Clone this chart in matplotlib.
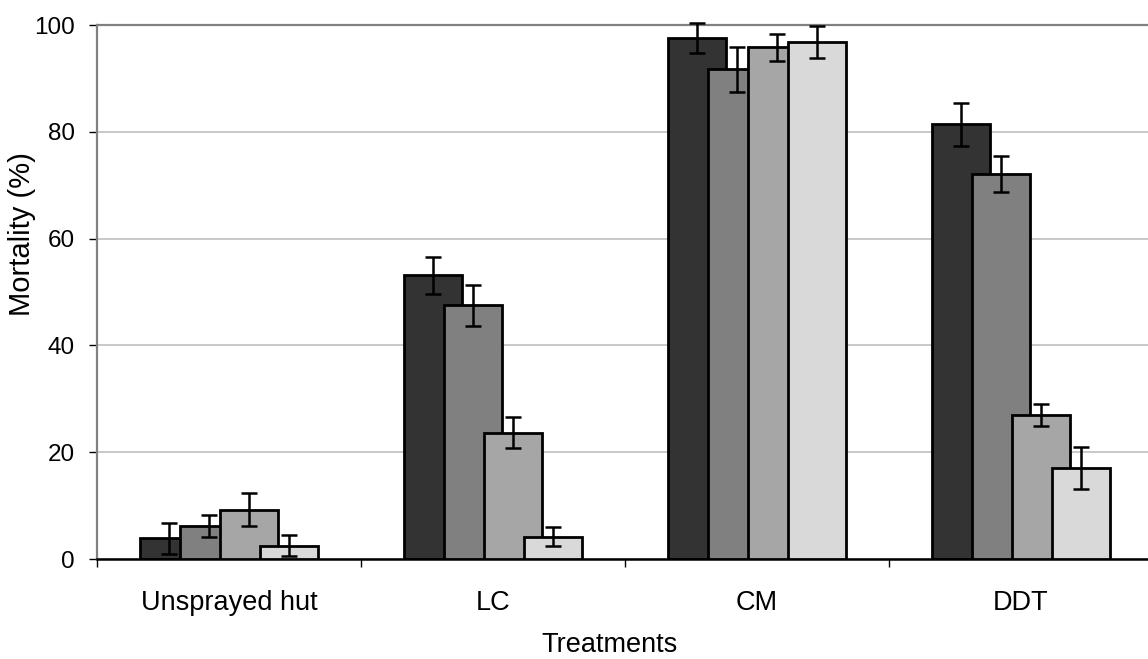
import numpy as np
import matplotlib
matplotlib.use("Agg")
import matplotlib.pyplot as plt

plt.rcParams['font.family'] = ['Liberation Sans', 'DejaVu Sans']

# data
treatments = ["Unsprayed hut", "LC", "CM", "DDT"]
series_1 = [3.9, 53.1, 97.6, 81.4]
series_2 = [6.2, 47.5, 91.7, 72.1]
series_3 = [9.2, 23.6, 95.8, 27.0]
series_4 = [2.5, 4.2, 96.8, 17.1]
err_1 = [2.9, 3.4, 2.8, 4.0]
err_2 = [2.0, 3.8, 4.2, 3.4]
err_3 = [3.1, 2.9, 2.6, 2.1]
err_4 = [2.0, 1.7, 3.0, 3.9]
y_ticks = [0, 20, 40, 60, 80, 100]

values = [series_1, series_2, series_3, series_4]
errors = [err_1, err_2, err_3, err_4]
colors = ["#333333", "#808080", "#a6a6a6", "#d9d9d9"]

fig = plt.figure(figsize=(11.48, 6.59), dpi=100)
# axes runs past the right edge of the figure like the original
ax = fig.add_axes([97 / 1148, 100 / 659, 1056 / 1148, 534 / 659])

x = np.arange(len(treatments))
bar_w = 0.22
step = 0.152
offsets = [-1.5 * step, -0.5 * step, 0.5 * step, 1.5 * step]

for i in range(4):
    ax.bar(x + offsets[i], values[i], width=bar_w, color=colors[i],
           edgecolor="black", linewidth=2.0, zorder=2 + i)
for i in range(4):
    eb = ax.errorbar(x + offsets[i], values[i], yerr=errors[i], fmt="none",
                     ecolor="black", elinewidth=1.8, capsize=5.8, capthick=1.8,
                     zorder=10)
    for art in eb.lines[1] + eb.lines[2]:
        art.set_clip_on(False)

ax.set_xlim(-0.5, 3.5)
ax.set_ylim(0, 100)

# y axis
ax.set_yticks(y_ticks)
ax.tick_params(axis="y", direction="out", length=6, width=1, pad=10,
               labelsize=17.5, color="black")
ax.yaxis.grid(True, color="#c0c0c0", linewidth=1.2, zorder=0)
ax.set_axisbelow(True)

# x axis: ticks between categories, labels at centres
ax.set_xticks(np.arange(-0.5, 4.0, 1.0))
ax.set_xticklabels([])
ax.set_xticks(x, minor=True)
ax.set_xticklabels(treatments, minor=True)
ax.tick_params(axis="x", which="major", direction="out", length=6, width=1)
ax.tick_params(axis="x", which="minor", length=0, pad=22, labelsize=19.5)

for side in ["left", "top"]:
    ax.spines[side].set_color("#808080")
    ax.spines[side].set_linewidth(1.6)
ax.spines["right"].set_visible(False)
ax.spines["bottom"].set_color("black")
ax.spines["bottom"].set_linewidth(1.8)

fig.text(22 / 1148, 1 - 234 / 659, "Mortality (%)", rotation=90,
         ha="center", va="center", fontsize=21)
fig.text(610 / 1148, 1 - 645 / 659, "Treatments", ha="center", va="center",
         fontsize=19.5)

fig.savefig("out.png", dpi=100)
